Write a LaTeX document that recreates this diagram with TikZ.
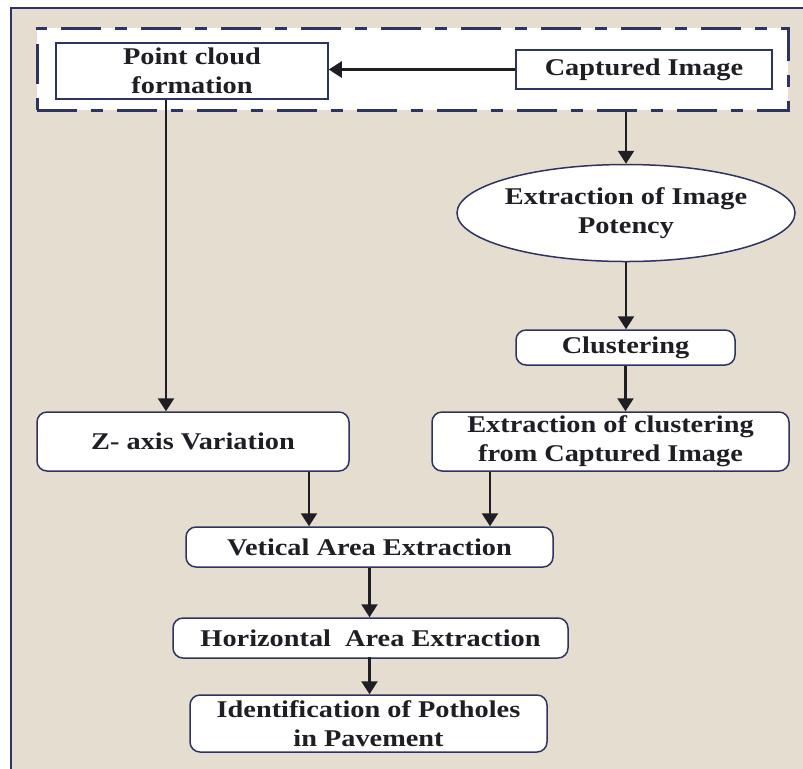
\documentclass[tikz,border=0pt]{standalone}
\usepackage{fontspec}
\setmainfont{Liberation Serif}[FakeStretch=1.18]
\usetikzlibrary{arrows.meta}
\usetikzlibrary{shapes.geometric}
\usetikzlibrary{math}
\definecolor{qnavy}{RGB}{46,52,98}
\definecolor{qbeige}{RGB}{229,222,208}
\definecolor{qink}{RGB}{30,30,36}

\tikzset{
  box/.style={draw=qnavy, line width=0.75pt, fill=white, inner sep=0pt, align=center,
    font=\fontsize{12}{14.5}\selectfont\bfseries, text=qink},
  rbox/.style={box, rounded corners=5pt},
  boxtext/.style={align=center, inner sep=0pt, font=\fontsize{12}{14.5}\selectfont\bfseries, text=qink},
  arr/.style={-{Triangle[length=6.5pt,width=8pt]}, line width=1.2pt, color=qink},
}

\begin{document}
\begin{tikzpicture}[x=0.5pt,y=-0.5pt]
\tikzmath{
\xa=166;
\xb=309;
\xc=490;
}
\useasboundingbox (0,0) rectangle (803,768);
\clip (0,0) rectangle (803,768);

%frame
\draw[qnavy, line width=0.75pt, fill=qbeige] (11,8) rectangle (830,790);

%acquisition block
\node[draw=qnavy, fill=white, line width=1.5pt, dash pattern=on 20pt off 7pt on 6pt off 7pt,
  minimum width=375.5pt, minimum height=41pt, inner sep=0pt] (acq) at (412.5,69) {};
\node[box, minimum width=136pt, minimum height=28pt] (pc) at (192,71) {Point cloud\\formation};
\node[box, minimum width=128pt, minimum height=19.5pt] (cap) at (644,69.5) {Captured Image};

%right branch
\node[ellipse, draw=qnavy, line width=0.75pt, fill=white, minimum width=169pt, minimum height=48.5pt,
  inner sep=0pt] (pot) at (626,213) {};
\node[boxtext] (pottext) at (pot.center) {Extraction of Image\\Potency};
\node[rbox, minimum width=109.5pt, minimum height=17.5pt] (clus) at (625.5,347.5) {Clustering};
\node[rbox, minimum width=178.5pt, minimum height=29.5pt] (excl) at (610.5,441.5) {Extraction of clustering\\from Captured Image};

%left branch
\node[rbox, minimum width=156pt, minimum height=29.5pt] (zax) at (193,441.5) {Z- axis Variation};

%merge
\node[rbox, minimum width=183.5pt, minimum height=20pt] (vert) at (369.5,547) {Vetical Area Extraction};
\node[rbox, minimum width=197.5pt, minimum height=20pt] (horz) at (370.5,638) {Horizontal~ Area Extraction};
\node[rbox, minimum width=178.5pt, minimum height=28.5pt] (iden) at (368.5,723.5) {Identification of Potholes\\in Pavement};

%arrows
\coordinate (colA) at (\xa,0);
\coordinate (colB) at (\xb,0);
\coordinate (colC) at (\xc,0);
\draw[arr] (cap.west) -- (pc.east |- cap.west);
\draw[arr] (acq.south -| pot.north) -- (pot.north);
\draw[arr] (pot.south) -- (clus.north -| pot.south);
\draw[arr] (clus.south) -- (excl.north -| clus.south);
\draw[arr] (pc.south -| colA) -- (zax.north -| colA);
\draw[arr] (zax.south -| colB) -- (vert.north -| colB);
\draw[arr] (excl.south -| colC) -- (vert.north -| colC);
\draw[arr] (vert.south) -- (horz.north -| vert.south);
\draw[arr] (horz.north -| vert.south) ++(0,40) coordinate (hs) -- (iden.north -| hs);

\end{tikzpicture}
\end{document}
